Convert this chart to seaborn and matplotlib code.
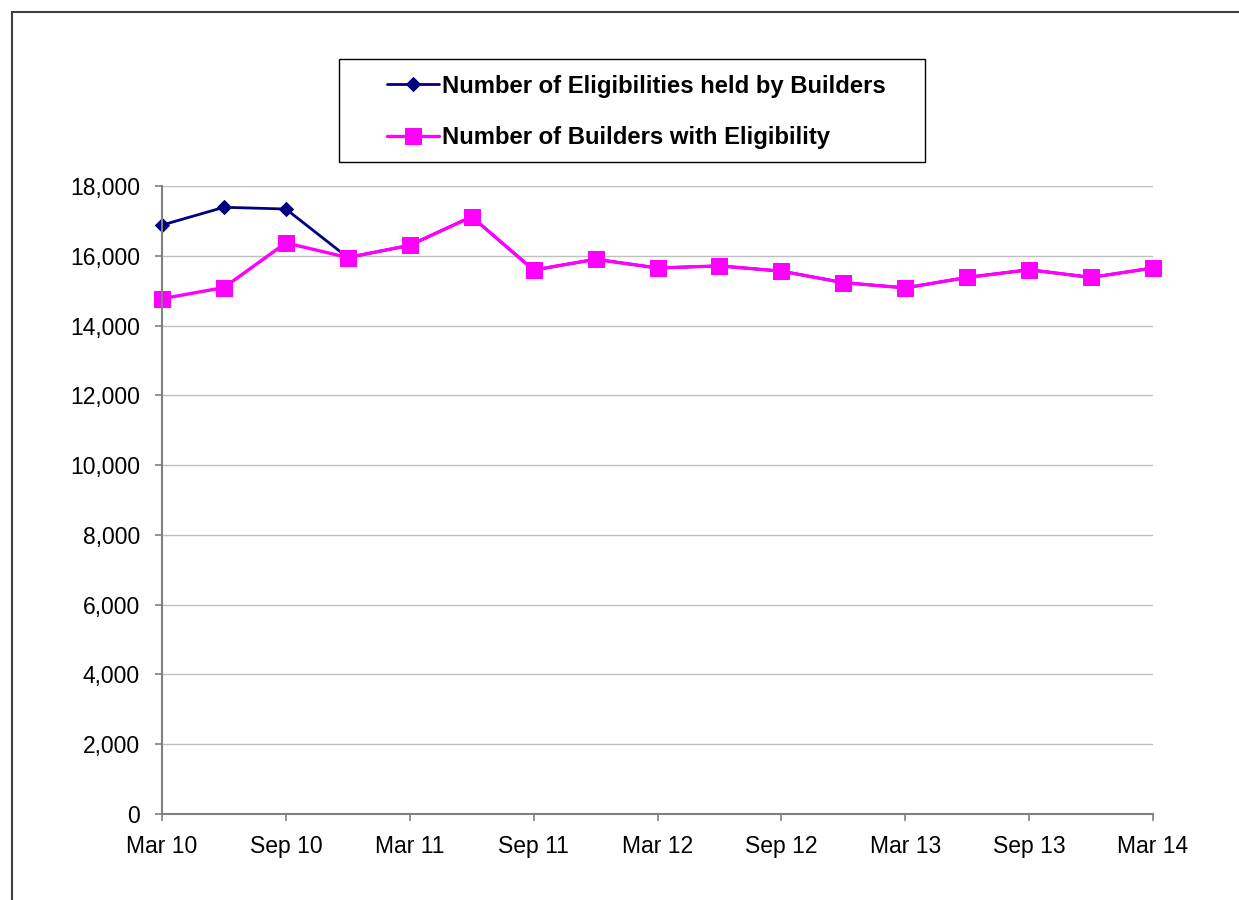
import matplotlib
matplotlib.use("Agg")
import matplotlib.pyplot as plt
from matplotlib.patches import Rectangle
import numpy as np
import pandas as pd
import seaborn as sns

quarters = ["Mar 10", "Jun 10", "Sep 10", "Dec 10", "Mar 11", "Jun 11", "Sep 11", "Dec 11",
            "Mar 12", "Jun 12", "Sep 12", "Dec 12", "Mar 13", "Jun 13", "Sep 13", "Dec 13", "Mar 14"]
builders = [14770, 15090, 16370, 15950, 16300, 17120, 15590, 15900,
            15650, 15710, 15560, 15230, 15080, 15380, 15600, 15380, 15650]
eligibilities = [16880, 17390, 17340] + builders[3:]

NAVY = "#000080"
MAGENTA = "#FF00FF"

sns.set_style("white")
plt.rcParams["font.family"] = ["Liberation Sans", "DejaVu Sans"]
plt.rcParams["text.color"] = "black"

df = pd.DataFrame({
    "pos": np.arange(len(quarters)),
    "eligibilities": eligibilities,
    "builders": builders,
})

fig = plt.figure(figsize=(12.39, 9.0), dpi=100)
ax = fig.add_axes([162 / 1239, 1 - 814 / 900, (1153 - 162) / 1239, (814 - 186) / 900])

sns.lineplot(data=df, x="pos", y="eligibilities", ax=ax, color=NAVY, lw=2.0,
             marker="D", markersize=7, markeredgecolor=NAVY, clip_on=False,
             label="Number of Eligibilities held by Builders")
sns.lineplot(data=df, x="pos", y="builders", ax=ax, color=MAGENTA, lw=2.4,
             marker="s", markersize=11, markeredgecolor=MAGENTA, clip_on=False,
             label="Number of Builders with Eligibility")

ax.set_xlim(0, len(quarters) - 1)
ax.set_ylim(0, 18000)
ax.set_yticks(range(0, 18001, 2000))
ax.set_yticklabels([f"{v:,}" for v in range(0, 18001, 2000)])
ax.set_xticks(df["pos"][::2])
ax.set_xticklabels(quarters[::2])
ax.set_xlabel("")
ax.set_ylabel("")
ax.yaxis.grid(True, color="#C0C0C0", lw=1.0)
ax.set_axisbelow(True)
for side in ["top", "right"]:
    ax.spines[side].set_visible(False)
for side in ["left", "bottom"]:
    ax.spines[side].set_color("#808080")
    ax.spines[side].set_linewidth(1.5)
ax.tick_params(axis="both", labelsize=16.5, colors="#808080", labelcolor="black",
               length=5, width=1.2, direction="out", left=True, bottom=True)
ax.tick_params(axis="x", pad=10)
ax.tick_params(axis="y", pad=11)

handles, labels = ax.get_legend_handles_labels()
ax.get_legend().remove()
fig.legend(handles, labels, loc="center", bbox_to_anchor=(636 / 1239, 1 - 112 / 900),
           frameon=False, prop={"weight": "bold", "size": 17.2},
           handlelength=2.2, handletextpad=0.1, labelspacing=1.2)

# legend box and outer chart frame
fig.patches.append(Rectangle((339 / 1239, 1 - 162 / 900), (925 - 339) / 1239, (162 - 59) / 900,
                             transform=fig.transFigure, fill=False, edgecolor="black", lw=1.0))
fig.patches.append(Rectangle((12 / 1239, -0.05), 1.1, 1 - 12 / 900 + 0.05,
                             transform=fig.transFigure, fill=False, edgecolor="#404040", lw=1.5))

fig.savefig("out.png", dpi=100, facecolor="white")
